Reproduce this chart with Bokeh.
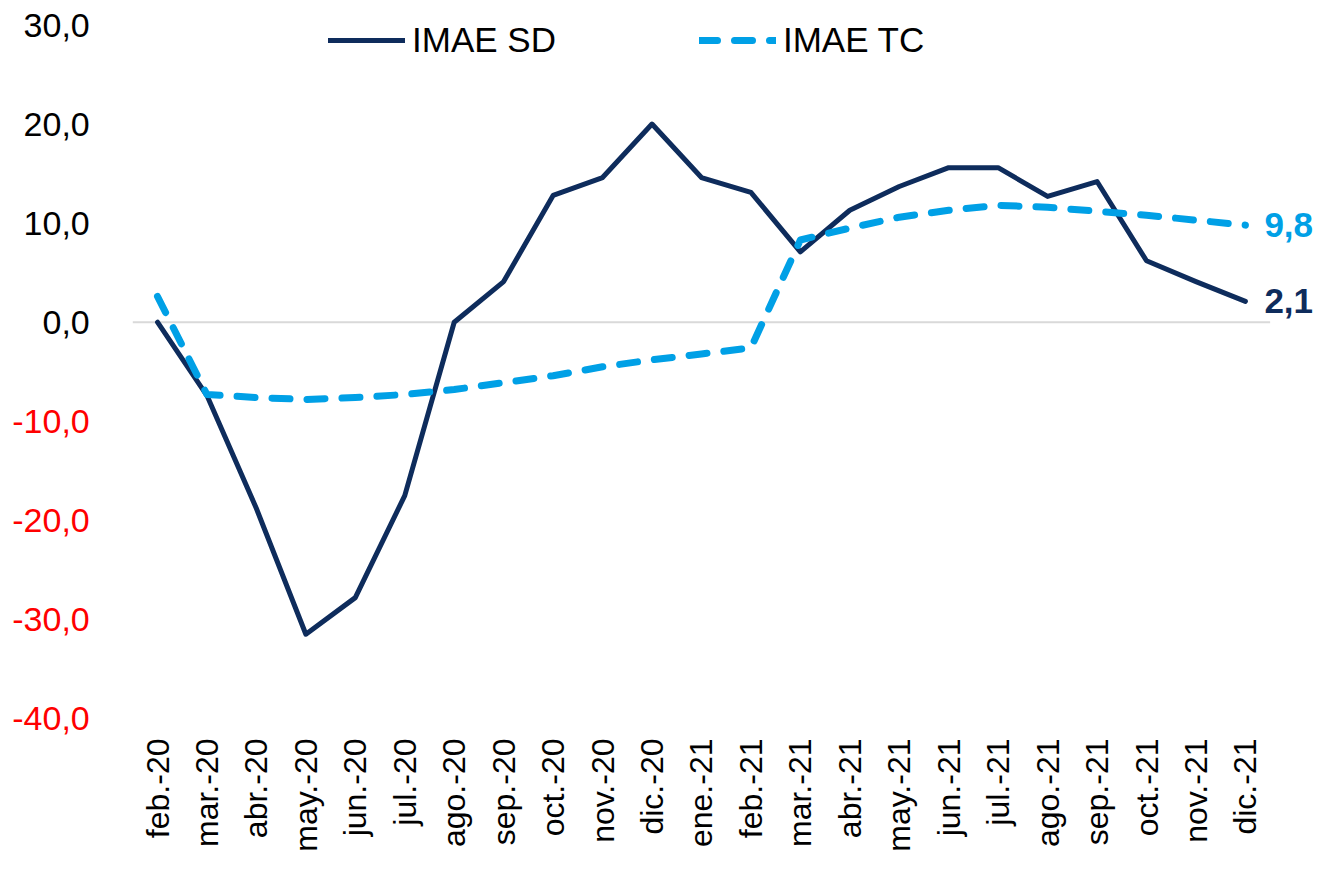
from bokeh.plotting import figure
from bokeh.models import ColumnDataSource, Range1d, FixedTicker, Legend, LegendItem
from bokeh.core.properties import value
from bokeh.embed import file_html
from bokeh.resources import INLINE
import math

categories = ["feb.-20", "mar.-20", "abr.-20", "may.-20", "jun.-20", "jul.-20", "ago.-20",
              "sep.-20", "oct.-20", "nov.-20", "dic.-20", "ene.-21", "feb.-21", "mar.-21",
              "abr.-21", "may.-21", "jun.-21", "jul.-21", "ago.-21", "sep.-21", "oct.-21",
              "nov.-21", "dic.-21"]
imae_sd = [0.0, -7.4, -18.8, -31.5, -27.8, -17.5, 0.0, 4.1, 12.8, 14.6, 20.0, 14.6, 13.1,
           7.1, 11.3, 13.7, 15.6, 15.6, 12.7, 14.2, 6.2, 4.1, 2.1]
imae_tc = [2.6, -7.3, -7.6, -7.8, -7.6, -7.3, -6.8, -6.1, -5.4, -4.5, -3.8, -3.2, -2.6,
           8.3, 9.5, 10.6, 11.3, 11.8, 11.6, 11.2, 10.8, 10.3, 9.8]
y_ticks = [-40, -30, -20, -10, 0, 10, 20, 30]

SD_COLOR = "#0E2C5C"
TC_COLOR = "#00A0E6"
NEG_COLOR = "#FF0000"
FONT = "Liberation Sans"

def fmt(v):
    return ("%.1f" % v).replace(".", ",")

n = len(categories)
xs = list(range(n))
src = ColumnDataSource(dict(x=xs, sd=imae_sd, tc=imae_tc))

# layout: plot frame spans the full width so that outside texts are not clipped
W, H = 1313, 854
step = 49.45          # pixels per category
first_px = 157        # pixel position of the first category
top_px, ymin_px = 24.5, 718     # pixel rows of the highest and lowest ticks
frame_bottom = 737               # frame extends a bit below the lowest tick
px_per_unit = (ymin_px - top_px) / (max(y_ticks) - min(y_ticks))

p = figure(width=W, height=H,
           x_range=Range1d(-first_px / step, (W - first_px) / step),
           y_range=Range1d(min(y_ticks) - (frame_bottom - ymin_px) / px_per_unit,
                           max(y_ticks) + top_px / px_per_unit),
           output_backend="svg", toolbar_location=None,
           min_border_left=0, min_border_right=0, min_border_top=0,
           min_border_bottom=H - frame_bottom)
p.outline_line_color = None
p.xgrid.grid_line_color = None
p.ygrid.grid_line_color = None
p.yaxis.visible = False

# zero line across the category area
p.segment(x0=[-0.5], x1=[n - 0.5], y0=[0], y1=[0], line_color="#D9D9D9", line_width=2)

r_sd = p.line("x", "sd", source=src, line_color=SD_COLOR, line_width=5, line_join="round",
              line_cap="round")
r_tc = p.line("x", "tc", source=src, line_color=TC_COLOR, line_width=7, line_dash="18 17",
              line_cap="round", line_join="round")

# y tick labels (negative values in red)
ysrc = ColumnDataSource(dict(x=[-0.5] * len(y_ticks), y=y_ticks,
                             t=[fmt(t) for t in y_ticks],
                             c=[NEG_COLOR if t < 0 else "black" for t in y_ticks]))
p.text(x="x", y="y", text="t", source=ysrc, x_offset=-43, text_align="right",
       text_baseline="middle", text_color="c", text_font=value(FONT),
       text_font_size="34px")

# x axis with category labels
xa = p.xaxis[0]
xa.ticker = FixedTicker(ticks=xs)
xa.major_label_overrides = {i: c for i, c in zip(xs, categories)}
xa.axis_line_color = None
xa.major_tick_line_color = None
xa.minor_tick_line_color = None
xa.major_tick_out = 0
xa.major_tick_in = 0
xa.major_label_orientation = math.pi / 2
xa.major_label_standoff = 1
xa.major_label_text_font = FONT
xa.major_label_text_font_size = "32px"
xa.major_label_text_color = "black"

# end-of-line value labels
esrc = ColumnDataSource(dict(x=[xs[-1]] * 2, y=[imae_tc[-1], imae_sd[-1]],
                             t=[fmt(imae_tc[-1]), fmt(imae_sd[-1])],
                             c=[TC_COLOR, SD_COLOR]))
p.text(x="x", y="y", text="t", source=esrc, x_offset=19, text_align="left",
       text_baseline="middle", text_color="c", text_font=value(FONT),
       text_font_size="35px", text_font_style="bold")

legend = Legend(items=[LegendItem(label="IMAE SD", renderers=[r_sd]),
                       LegendItem(label="IMAE TC", renderers=[r_tc])],
                location=(328, frame_bottom - 40 - 20), orientation="horizontal")
legend.border_line_color = None
legend.background_fill_alpha = 0
legend.padding = 0
legend.margin = 0
legend.glyph_width = 77
legend.glyph_height = 40
legend.label_height = 40
legend.label_standoff = 7
legend.spacing = 143
legend.label_text_font = FONT
legend.label_text_font_size = "35px"
legend.label_text_color = "black"
p.add_layout(legend)

open("out.html", "w").write(file_html(p, INLINE))
